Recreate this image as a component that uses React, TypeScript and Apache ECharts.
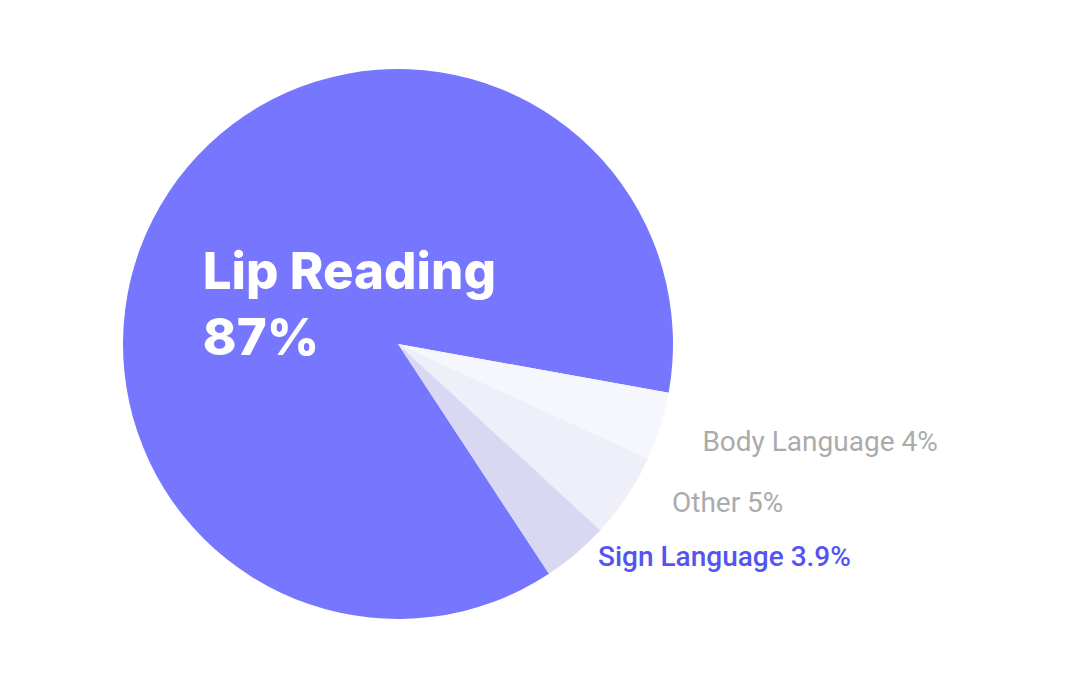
import React, { useEffect, useRef } from "react";
import * as echarts from "echarts";

const categories = ["Lip Reading", "Body Language", "Other", "Sign Language"];
const values = [87, 4, 5, 3.9];
const valueLabels = ["87%", "4%", "5%", "3.9%"];
const sliceColors = ["#7676FF", "#F6F7FC", "#EFEFF9", "#D9D8F2"];
const labelOffsets: [number, number][] = [
  [72, 37],
  [42, 15],
  [45, 6],
  [22, 3],
];

export default function App() {
  const ref = useRef<HTMLDivElement>(null);
  useEffect(() => {
    document.body.style.margin = "0";
    const chart = echarts.init(ref.current!, null, { renderer: "svg" });
    const outsideLabel = (color: string, weight: any) => ({
      show: true,
      position: "outside",
      align: "left",
      verticalAlign: "middle",
      distanceToLabelLine: 0,
      fontFamily: "Roboto",
      fontSize: 28,
      fontWeight: weight,
      color,
      formatter: (p: any) => `${p.name} ${valueLabels[p.dataIndex]}`,
    });
    const data = categories.map((name, i) => {
      let label: any;
      if (i === 0) {
        label = {
          show: true,
          position: "inside",
          verticalAlign: "middle",
          overflow: "none",
          formatter: (p: any) =>
            `{t|${p.name}}\n{t|${valueLabels[p.dataIndex]}}`,
          rich: {
            t: {
              width: 300,
              align: "left",
              fontFamily: "Inter",
              fontWeight: 800,
              fontSize: 51,
              lineHeight: 66,
              color: "#FFFFFF",
            },
          },
        };
      } else if (i === 3) {
        label = outsideLabel("#5454F2", 500);
      } else {
        label = outsideLabel("#ABABAB", 400);
      }
      return {
        name,
        value: values[i],
        itemStyle: { color: sliceColors[i] },
        label,
        labelLine: { show: false, length: 0, length2: 0 },
      };
    });
    chart.setOption({
      animation: false,
      backgroundColor: "#FFFFFF",
      series: [
        {
          type: "pie",
          center: [398, 344],
          radius: 275,
          startAngle: -56.7,
          clockwise: true,
          avoidLabelOverlap: false,
          emphasis: { disabled: true },
          data,
          labelLayout: (params: any) => ({
            dx: labelOffsets[params.dataIndex][0],
            dy: labelOffsets[params.dataIndex][1],
          }),
        },
      ],
    });
    return () => chart.dispose();
  }, []);
  return <div ref={ref} style={{ width: 1070, height: 690 }} />;
}
